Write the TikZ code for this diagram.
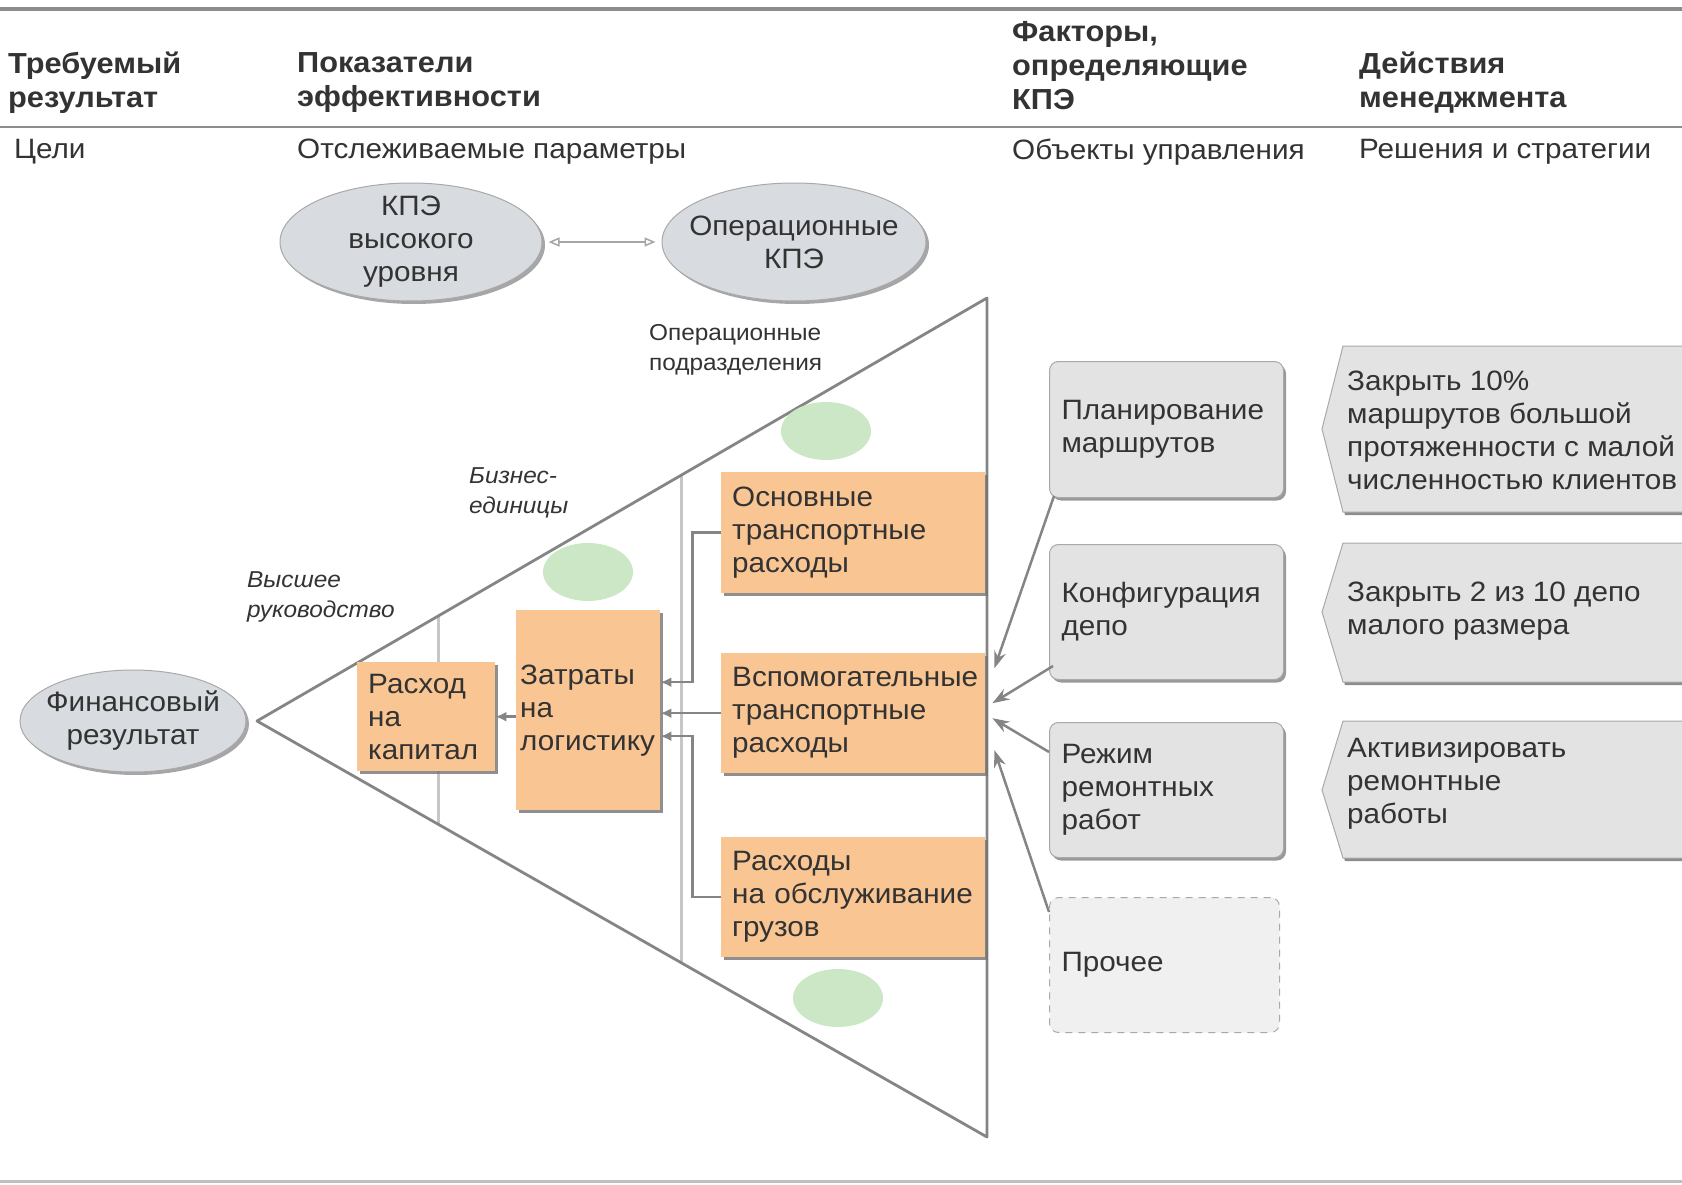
\documentclass[tikz,border=0pt]{standalone}
\usepackage{fontspec}
\setmainfont[FakeStretch=1.06]{Liberation Sans}
\usetikzlibrary{shapes.geometric,arrows.meta,shadows,calc}
\definecolor{txt}{HTML}{333333}
\definecolor{lin}{HTML}{858585}
\definecolor{orng}{HTML}{F9C592}
\definecolor{gbox}{HTML}{E3E3E3}
\definecolor{gedge}{HTML}{A9A9A9}
\definecolor{ellf}{HTML}{D8DBDF}
\definecolor{grn}{HTML}{CBE7C6}
\begin{document}
\begin{tikzpicture}[x=1pt,y=-1pt,
  base/.style={font=\fontsize{28}{33}\selectfont, text=txt, inner sep=0pt},
  hdr/.style={base, font=\fontsize{29}{34}\selectfont\bfseries, align=left, anchor=west},
  sub/.style={base, align=left, anchor=west},
  small/.style={base, font=\fontsize{23}{30}\selectfont, align=left, anchor=west},
  smallit/.style={small, font=\fontsize{23}{30}\selectfont\itshape},
  obox/.style={base, fill=orng, anchor=north west, align=left, inner xsep=11pt,
    drop shadow={shadow xshift=2.5pt, shadow yshift=-2.5pt, fill=black!55, opacity=0.8}},
  fbox/.style={base, fill=gbox, draw=gedge, line width=1pt, rounded corners=9pt,
    anchor=north west, align=left, inner xsep=12pt, text width=210pt},
  fsh/.style={drop shadow={shadow xshift=2.5pt, shadow yshift=-3pt, fill=black!50, opacity=0.8}},
  ell/.style={ellipse, fill=ellf, draw=gedge, line width=1pt, inner sep=0pt,
    drop shadow={shadow xshift=3pt, shadow yshift=-3pt, fill=black!50, opacity=0.7}},
  gell/.style={ellipse, fill=grn, draw=none, inner sep=0pt, minimum width=90pt, minimum height=58pt},
  actshape/.style={fill=gbox, draw=gedge, line width=1pt},
  actsh/.style={fill=black!45},
  tri/.style={draw=lin, line width=2.8pt, line join=round},
  divl/.style={draw=black!22, line width=3pt},
  arr/.style={draw=lin, line width=2.5pt, -{Stealth[length=17pt,width=12pt]}},
  oarr/.style={draw=lin, line width=2.5pt, -{Latex[length=11pt,width=10pt]}},
  hline/.style={draw=black!45, line width=3.5pt}
]
\useasboundingbox (0,0) rectangle (1682,1185);

% header lines
\draw[hline] (0,9) -- (1682,9);
\draw[hline, line width=2.5pt] (0,127) -- (1682,127);
\draw[draw=black!25, line width=3pt] (0,1181) -- (1682,1181);

% headers
\node[hdr] (h1) at (8,83) {Требуемый\\результат};
\node[hdr] (h2) at (297,83) {Показатели\\эффективности};
\node[hdr] (h3) at (1012,66) {Факторы,\\определяющие\\КПЭ};
\node[hdr] (h4) at (1359,83) {Действия\\менеджмента};
\node[sub] (s1) at (14,152) {Цели};
\node[sub] (s2) at (297,152) {Отслеживаемые параметры};
\node[sub] (s3) at (1012,152) {Объекты управления};
\node[sub] (s4) at (1359,152) {Решения и стратегии};

% KPI ellipses
\node[ell, minimum width=262pt, minimum height=118pt] (kpi1) at (411,242) {};
\node[base, align=center] (kpi1t) at (kpi1) {КПЭ\\высокого\\уровня};
\node[ell, minimum width=264pt, minimum height=118pt] (kpi2) at (794,242) {};
\node[base, align=center] (kpi2t) at (kpi2) {Операционные\\КПЭ};
\draw[draw=black!35, line width=1.5pt, shorten <=6pt, shorten >=6pt,
  {Triangle[open,length=11pt,width=9pt]}-{Triangle[open,length=11pt,width=9pt]}] (kpi1) -- (kpi2);

% triangle
\coordinate (apex) at (257,721);
\coordinate (tr) at (987,298);
\coordinate (br) at (987,1137);
\draw[divl] ($(apex)!0.248!(tr)$) -- ($(apex)!0.248!(br)$);
\draw[divl] ($(apex)!0.582!(tr)$) -- ($(apex)!0.582!(br)$);
\draw[tri] (apex) -- (tr) -- (br) -- cycle;

% level labels
\node[smallit] (l1) at (247,597) {Высшее\\руководство};
\node[smallit] (l2) at (469,493) {Бизнес-\\единицы};
\node[small] (l3) at (649,350) {Операционные\\подразделения};

% green ellipses
\node[gell] (g1) at (826,431) {};
\node[gell] (g2) at (588,572) {};
\node[gell] (g3) at (838,998) {};

% financial result
\node[ell, minimum width=226pt, minimum height=102pt] (fin) at (133,721) {};
\node[base, align=center] (fint) at (fin) {Финансовый\\результат};

% orange boxes
\node[obox, text width=116pt, minimum height=109pt] (rask) at (357,662) {Расход\\на\\капитал};
\node[obox, text width=136pt, inner xsep=4pt, minimum height=200pt] (zatr) at (516,610) {Затраты\\на\\логистику};
\node[obox, text width=242pt, minimum height=121pt] (osn) at (721,472) {Основные\\транспортные\\расходы};
\node[obox, text width=242pt, minimum height=120pt] (vsp) at (721,653) {Вспомогательные\\транспортные\\расходы};
\node[obox, text width=242pt, minimum height=120pt] (gruz) at (721,837) {Расходы\\на обслуживание\\грузов};

% orange connectors
\draw[oarr] (osn.west) -| ([xshift=32pt,yshift=28pt]zatr.east) -- ([yshift=28pt]zatr.east);
\draw[oarr] (vsp.west) -- (vsp.west -| zatr.east);
\draw[oarr] (gruz.west) -| ([xshift=32pt,yshift=-26pt]zatr.east) -- ([yshift=-26pt]zatr.east);
\draw[oarr] (zatr.west |- rask.east) -- (rask.east);

% factor boxes
\node[fbox, fsh, minimum height=136pt] (plan) at (1049,361) {Планирование\\маршрутов};
\node[fbox, fsh, minimum height=135pt] (konf) at (1049,544) {Конфигурация\\депо};
\node[fbox, fsh, minimum height=135pt] (rezh) at (1049,722) {Режим\\ремонтных\\работ};
\node[fbox, dashed, dash pattern=on 7pt off 6pt, fill=black!6, text width=206pt, minimum height=135pt] (proch) at (1049,897) {Прочее};

% factor arrows
\draw[arr] ([xshift=5pt,yshift=2pt]plan.south west) -- ([xshift=9pt,yshift=45pt]vsp.east);
\draw[arr] ([xshift=4pt,yshift=14pt]konf.south west) -- ([xshift=7pt,yshift=10pt]vsp.east);
\draw[arr] ([yshift=38pt]rezh.west) -- ([xshift=7pt,yshift=-5pt]vsp.east);
\draw[arr] ([yshift=-15pt]proch.north west) -- ([xshift=9pt,yshift=-37pt]vsp.east);

% action boxes
\fill[actsh] (1345,349) -- (1700,349) -- (1700,515) -- (1345,515) -- (1324,432) -- cycle;
\path[actshape] (1343,346) -- (1700,346) -- (1700,512) -- (1343,512) -- (1322,429) -- cycle;
\node[sub] (a1) at (1347,430) {Закрыть 10\%\\маршрутов большой\\протяженности с малой\\численностью клиентов};
\fill[actsh] (1345,546) -- (1700,546) -- (1700,685) -- (1345,685) -- (1324,615) -- cycle;
\path[actshape] (1343,543) -- (1700,543) -- (1700,682) -- (1343,682) -- (1322,612) -- cycle;
\node[sub] (a2) at (1347,611) {Закрыть 2 из 10 депо\\малого размера};
\fill[actsh] (1345,724) -- (1700,724) -- (1700,861) -- (1345,861) -- (1324,793) -- cycle;
\path[actshape] (1343,721) -- (1700,721) -- (1700,858) -- (1343,858) -- (1322,790) -- cycle;
\node[sub] (a3) at (1347,784) {Активизировать\\ремонтные\\работы};
\end{tikzpicture}
\end{document}
